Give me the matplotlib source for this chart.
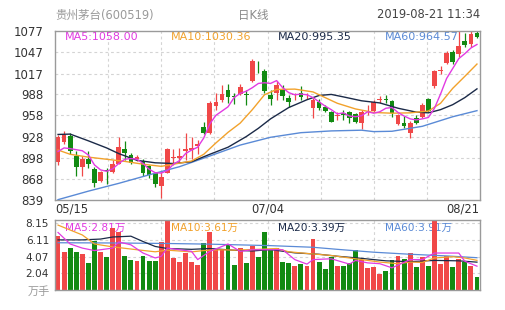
import matplotlib
matplotlib.use('Agg')
import matplotlib.pyplot as plt
import numpy as np

plt.rcParams['font.family'] = ['DejaVu Sans', 'Noto Sans CJK SC']

# ---------------- data ----------------
open_ = [892, 921, 929, 900, 885.5, 897, 882, 866, 881, 878,
         890, 911, 902, 897, 893, 886, 876, 858, 877, 898,
         898, 908, 909, 915, 941, 933.5, 971, 979, 994, 985.5,
         988, 988.5, 1007, 1028, 1021, 987, 989, 995, 982, 986,
         990, 986, 969, 977, 970, 963, 957.5, 961.5, 963, 960,
         947, 965, 963.5, 979, 981, 978.6, 946, 947, 933, 954,
         955, 981.5, 999, 1020.5, 1032, 1048, 1044, 1063, 1058, 1074]
high = [930, 936, 933, 907, 900.6, 907, 885.5, 880, 883, 895,
        927, 922, 905, 902, 896, 888, 878, 878, 912, 911,
        911.5, 933, 928, 923, 949, 978, 989, 1001, 1002, 989,
        1002, 994, 1037.5, 1034, 1024, 994, 1007, 1001, 987, 989,
        999.5, 990, 982, 981, 972, 964, 963, 965.5, 964.5, 961,
        965.5, 972.6, 979, 985, 986, 980, 960, 956.6, 949.5, 959,
        975.4, 982, 1022.5, 1027.6, 1049, 1050, 1077, 1074, 1076.6, 1077]
low = [888, 918, 904, 872, 872, 883, 857, 864, 861, 877,
       889, 895, 890, 893, 872, 870, 857, 841, 876, 888,
       892, 895, 897, 904, 932, 932, 965, 977, 975, 974,
       987, 972, 1005, 1018, 989, 972, 979.6, 980, 970, 979.6,
       979.6, 981, 954, 965, 963, 948, 952, 952, 946.7, 947,
       939, 958.4, 963, 975, 976, 955, 944, 940, 926, 946,
       954, 963, 996, 1015.8, 1030, 1031, 1040, 1055, 1055, 1067]
close = [928, 930, 908, 885.5, 896, 889, 862, 878, 880, 889,
         913, 905, 891, 899, 876, 874, 861, 871, 910, 899.5,
         900, 911, 912, 917, 933.5, 976, 977, 988, 984, 983.5,
         997.5, 987, 1034, 1027, 993, 981, 1001, 985.5, 976.5, 987.5,
         984.5, 987, 979, 969, 964, 949, 959, 958.5, 954, 948,
         963, 966, 977.5, 980.5, 980, 961, 958, 942.5, 947, 947,
         972, 964, 1020, 1022, 1046, 1033, 1056, 1057, 1073, 1068]
volume = [6.63, 4.68, 5.17, 4.68, 4.39, 3.31, 6.0, 4.68, 4.05, 7.5,
          7.0, 4.14, 3.64, 3.52, 4.14, 3.56, 3.56, 5.8, 8.45, 3.93,
          3.43, 4.48, 3.43, 3.02, 5.72, 7.04, 4.97, 4.97, 5.5, 3.02,
          5.1, 3.23, 5.3, 4.05, 7.04, 4.89, 5.17, 3.43, 3.31, 2.94,
          3.15, 2.9, 6.26, 3.43, 2.61, 3.98, 2.94, 2.94, 3.23, 4.89,
          3.64, 2.69, 2.81, 1.9, 2.31, 3.64, 4.14, 3.77, 4.55, 2.81,
          3.98, 2.94, 8.55, 3.15, 4.14, 2.81, 3.77, 3.43, 2.94, 1.57]

ma5 = [907, 912, 911, 909.5, 908, 902, 888, 881, 879, 882.5,
       890, 896, 897, 896, 890, 882, 877, 876.5, 880, 889,
       894, 904, 909, 913, 926, 946, 958, 964, 970, 983,
       989, 992, 997, 1003, 1004, 1003, 1007, 997, 990, 987,
       988, 987, 983, 977, 971, 966, 960, 961.5, 957, 956,
       957.5, 963, 961, 963, 968, 969, 962, 957, 953, 951.5,
       953, 955, 968, 988, 1010, 1024, 1038, 1045, 1053, 1058]
ma10_idx = [0, 2, 5, 8, 11, 14, 17, 19, 22, 24, 26, 28, 30, 32, 34, 36, 39,
            42, 44, 46, 49, 52, 55, 58, 61, 63, 65, 67, 69]
ma10 = [909, 903, 899, 896, 893, 889, 886, 889, 893.5, 903, 919, 934, 947,
        966, 987, 994.5, 995, 991, 983, 975, 967, 962, 961, 961.5, 964, 975,
        996, 1013, 1030.36]
ma20_idx = [0, 2, 5, 8, 10, 13, 16, 19, 22, 25, 28, 31, 33, 35, 38, 41, 43,
            45, 47, 50, 53, 56, 59, 61, 63, 65, 67, 69]
ma20 = [931, 931.5, 922, 912, 904, 894.5, 891, 890, 892.5, 903, 913, 928,
        939.7, 953, 969, 980, 986, 987.5, 984, 978.5, 975.5, 968, 962.5, 961.5,
        966, 973, 983, 995.35]
ma60_idx = [0, 5, 10, 15, 20, 25, 30, 35, 40, 45, 50, 52, 55, 60, 65, 69]
ma60 = [839, 851, 862, 874, 885.5, 900.6, 916, 927, 933.5, 936, 937, 935,
        935.5, 942.5, 956, 964.57]

vma5_idx = [0, 2, 4, 6, 8, 9, 10, 12, 14, 16, 17, 18, 20, 22, 23, 25, 28, 30,
            32, 34, 37, 39, 41, 42, 45, 48, 49, 51, 53, 55, 58, 60, 62, 64, 66,
            67, 69]
vma5 = [7.0, 5.6, 5.1, 4.8, 5.0, 5.1, 5.85, 5.5, 4.5, 3.9, 4.1, 5.1, 4.9, 4.7,
        3.7, 4.7, 5.6, 4.7, 4.9, 4.9, 4.9, 3.7, 3.15, 3.7, 3.8, 3.15, 3.6, 3.3,
        3.2, 2.7, 3.7, 3.7, 4.5, 4.5, 4.5, 3.5, 2.9]
vma10_idx = [0, 4, 6, 9, 13, 16, 18, 22, 24, 27, 29, 33, 36, 38, 41, 45, 47,
             50, 53, 56, 58, 60, 62, 65, 67, 69]
vma10 = [7.9, 6.7, 5.6, 5.25, 4.9, 4.65, 4.85, 4.64, 4.8, 4.9, 4.85, 4.95,
         5.05, 4.65, 4.45, 4.2, 4.0, 3.7, 3.4, 3.2, 3.4, 3.35, 3.9, 4.05, 3.9,
         3.61]
vma20_idx = [0, 4, 7, 9, 12, 14, 16, 18, 22, 25, 29, 32, 35, 39, 43, 46, 50,
             54, 58, 62, 66, 69]
vma20 = [6.1, 6.1, 6.2, 6.45, 6.55, 5.9, 5.3, 5.05, 4.95, 5.05, 4.84, 4.75,
         4.92, 4.52, 4.35, 4.11, 3.85, 3.55, 3.45, 3.6, 3.55, 3.39]
vma60_idx = [0, 10, 18, 25, 35, 42, 46, 52, 58, 64, 69]
vma60 = [5.75, 5.72, 5.66, 5.58, 5.4, 5.2, 4.95, 4.6, 4.35, 4.15, 3.93]

price_ticks = [839, 868, 898, 928, 958, 988, 1017, 1047, 1077]
vol_ticks = [2.04, 4.07, 6.11, 8.15]
vol_tick_labels = ['2.04', '4.07', '6.11', '8.15']
date_labels = ['05/15', '07/04', '08/21']
ma_price_labels = ['MA5:1058.00', 'MA10:1030.36', 'MA20:995.35', 'MA60:964.57']
ma_vol_labels = ['MA5:2.81万', 'MA10:3.61万', 'MA20:3.39万', 'MA60:3.91万']

# ---------------- style ----------------
RED = '#f04848'
GREEN = '#128a12'
C5 = '#e23ae2'
C10 = '#f2a22c'
C20 = '#1b2a48'
C60 = '#5a8ad6'
GRID = '#d4d4d4'
FRAME = '#9a9a9a'

n = len(close)
x = np.arange(n)
up = [c >= o for o, c in zip(open_, close)]
colors = [RED if u else GREEN for u in up]

fig = plt.figure(figsize=(5.05, 3.10), dpi=100)
ax = fig.add_axes([55/505, 110/310, 425/505, 169/310])
axv = fig.add_axes([55/505, 20/310, 425/505, 70/310])

# ---- main price panel ----
ax.set_xlim(-0.5, n - 0.5)
ax.set_ylim(838.5, 1077)
for t in price_ticks[1:-1]:
    ax.axhline(t, color=GRID, lw=0.8, ls=(0, (2.5, 2.5)), zorder=0.5)
for k in range(1, 8):
    ax.axvline(-0.5 + k * n / 8, color=GRID, lw=0.8, ls=(0, (2.5, 2.5)), zorder=0.5)

bottoms = [min(o, c) for o, c in zip(open_, close)]
heights = [max(abs(c - o), 1.0) for o, c in zip(open_, close)]
ax.vlines(x, low, high, colors=colors, lw=0.9, zorder=2)
ax.bar(x, heights, bottom=bottoms, width=0.78, color=colors, lw=0, zorder=2.1)

ax.plot(ma60_idx, ma60, color=C60, lw=1.0, zorder=3)
ax.plot(ma20_idx, ma20, color=C20, lw=1.0, zorder=3)
ax.plot(ma10_idx, ma10, color=C10, lw=1.0, zorder=3)
ax.plot(x, ma5, color=C5, lw=1.0, zorder=3)

ax.set_yticks(price_ticks)
ax.set_yticklabels([str(t) for t in price_ticks])
ax.tick_params(axis='y', length=0, pad=8.5, labelsize=8.5, labelcolor='#333333')
ax.set_xticks([])
for s in ax.spines.values():
    s.set_color(FRAME)
    s.set_linewidth(1.0)

leg_x = [0.0235, 0.273, 0.525, 0.776]
for lx, lab, col in zip(leg_x, ma_price_labels, [C5, C10, C20, C60]):
    ax.text(lx, 0.9645, lab, color=col, fontsize=8, va='center', ha='left',
            transform=ax.transAxes, zorder=1.5)

# ---- volume panel ----
axv.set_xlim(-0.5, n - 0.5)
axv.set_ylim(0, 8.52)
for t in vol_ticks:
    axv.axhline(t, color=GRID, lw=0.8, ls=(0, (2.5, 2.5)), zorder=0.5)
for k in range(1, 4):
    axv.axvline(-0.5 + k * n / 4, color=GRID, lw=0.8, ls=(0, (2.5, 2.5)), zorder=0.5)

for lx, lab, col in zip(leg_x, ma_vol_labels, [C5, C10, C20, C60]):
    axv.text(lx, 0.886, lab, color=col, fontsize=7.6, va='center', ha='left',
             transform=axv.transAxes, zorder=1.5)

axv.bar(x, volume, width=0.8, color=colors, lw=0, zorder=2)
axv.plot(vma60_idx, vma60, color=C60, lw=0.9, zorder=3)
axv.plot(vma20_idx, vma20, color=C20, lw=0.9, zorder=3)
axv.plot(vma10_idx, vma10, color=C10, lw=0.9, zorder=3)
axv.plot(vma5_idx, vma5, color=C5, lw=0.9, zorder=3)

axv.set_yticks(vol_ticks)
axv.set_yticklabels(vol_tick_labels)
axv.tick_params(axis='y', length=0, pad=4.3, labelsize=7.6, labelcolor='#333333')
axv.set_xticks([])
for s in axv.spines.values():
    s.set_color(FRAME)
    s.set_linewidth(1.0)

# ---- texts ----
fig.text(55/505, 1 - 15/310, '贵州茅台(600519)', color='#9a9a9a', fontsize=8.3,
         ha='left', va='center')
fig.text(253/505, 1 - 15/310, '日K线', color='#8a8a8a', fontsize=8.3,
         ha='center', va='center')
fig.text(480/505, 1 - 15/310, '2019-08-21 11:34', color='#444444', fontsize=8.3,
         ha='right', va='center')

fig.text(55/505, 1 - 208.5/310, date_labels[0], color='#333333', fontsize=8.3,
         ha='left', va='center')
fig.text(267.5/505, 1 - 208.5/310, date_labels[1], color='#333333', fontsize=8.3,
         ha='center', va='center')
fig.text(479/505, 1 - 208.5/310, date_labels[2], color='#333333', fontsize=8.3,
         ha='right', va='center')
fig.text(50/505, 1 - 292/310, '万手', color='#9a9a9a', fontsize=8,
         ha='right', va='center')

fig.savefig('out.png', dpi=100, facecolor='white')
